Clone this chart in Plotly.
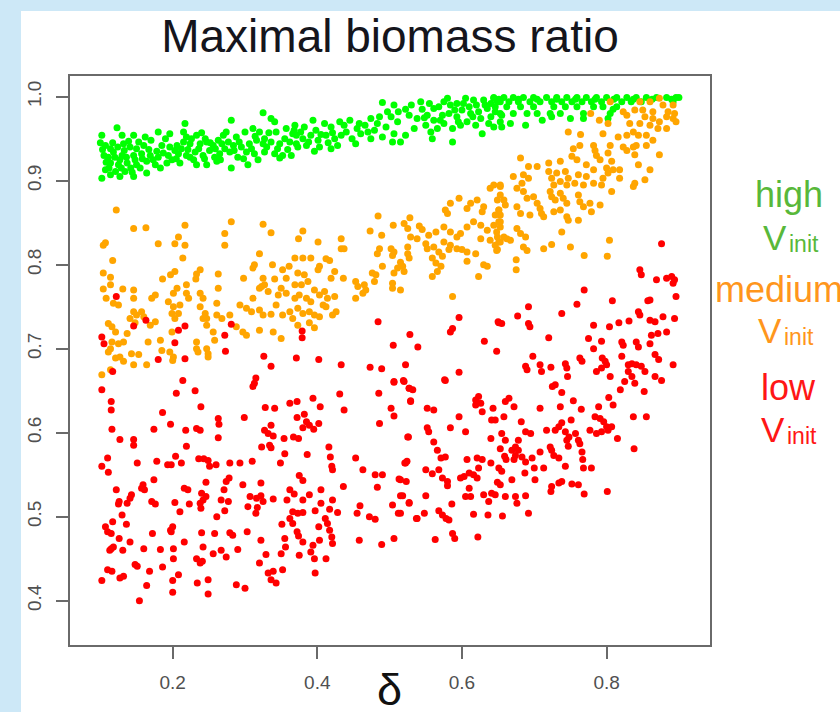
import plotly.graph_objects as go

# ---------------- data ----------------
title_text = "Maximal biomass ratio"
x_label = "δ"
x_tick_vals = [0.2, 0.4, 0.6, 0.8]
x_tick_text = ["0.2", "0.4", "0.6", "0.8"]
y_tick_vals = [0.4, 0.5, 0.6, 0.7, 0.8, 0.9, 1.0]
y_tick_text = ["0.4", "0.5", "0.6", "0.7", "0.8", "0.9", "1.0"]
group_names = ["high", "medium", "low"]

green_pts = [
    (0.325,0.981),(0.336,0.974),(0.341,0.970),(0.281,0.972),(0.217,0.968),(0.123,0.963),(0.102,0.954),(0.130,0.954),
    (0.146,0.954),(0.162,0.952),(0.180,0.958),(0.196,0.956),(0.215,0.958),(0.219,0.952),(0.233,0.954),(0.245,0.950),
    (0.270,0.954),(0.274,0.958),(0.288,0.952),(0.300,0.958),(0.311,0.962),(0.320,0.958),(0.327,0.950),(0.343,0.958),
    (0.357,0.962),(0.366,0.956),(0.107,0.942),(0.114,0.938),(0.118,0.934),(0.105,0.930),(0.111,0.928),(0.132,0.944),
    (0.141,0.940),(0.150,0.938),(0.160,0.942),(0.185,0.942),(0.196,0.940),(0.206,0.942),(0.215,0.946),(0.224,0.944),
    (0.238,0.944),(0.247,0.946),(0.256,0.942),(0.268,0.944),(0.277,0.946),(0.284,0.942),(0.295,0.940),(0.306,0.944),
    (0.316,0.948),(0.325,0.944),(0.336,0.946),(0.348,0.944),(0.362,0.946),(0.371,0.944),(0.130,0.930),(0.146,0.930),
    (0.157,0.932),(0.169,0.930),(0.180,0.928),(0.194,0.930),(0.208,0.932),(0.219,0.930),(0.231,0.934),(0.242,0.930),
    (0.251,0.936),(0.265,0.932),(0.279,0.934),(0.290,0.928),(0.302,0.934),(0.313,0.932),(0.327,0.934),(0.341,0.932),
    (0.352,0.930),(0.114,0.921),(0.125,0.919),(0.137,0.921),(0.150,0.919),(0.164,0.923),(0.176,0.919),(0.192,0.921),
    (0.210,0.921),(0.233,0.919),(0.247,0.919),(0.261,0.923),(0.281,0.915),(0.304,0.919),(0.348,0.927),(0.102,0.903),
    (0.114,0.907),(0.127,0.905),(0.146,0.905),(0.164,0.909),(0.107,0.913),(0.121,0.911),(0.134,0.911),(0.144,0.910),
    (0.183,0.915),(0.199,0.925),(0.224,0.928),(0.258,0.928),
    (0.100,0.945),(0.103,0.937),(0.108,0.922),(0.112,0.915),(0.117,0.945),(0.120,0.928),(0.124,0.940),(0.127,0.925),
    (0.129,0.915),(0.133,0.936),(0.136,0.928),(0.139,0.947),(0.142,0.915),(0.148,0.925),(0.153,0.946),(0.155,0.915),
    (0.158,0.926),(0.167,0.937),(0.170,0.948),(0.173,0.925),(0.178,0.935),(0.187,0.933),(0.190,0.950),(0.203,0.936),
    (0.205,0.926),(0.212,0.938),(0.221,0.937),(0.226,0.950),(0.229,0.925),(0.236,0.938),(0.240,0.957),(0.244,0.926),
    (0.252,0.945),(0.259,0.938),(0.263,0.948),(0.266,0.925),(0.272,0.938),(0.285,0.936),(0.292,0.946),(0.298,0.926),
    (0.309,0.938),(0.314,0.953),(0.318,0.925),(0.330,0.940),(0.333,0.957),(0.345,0.938),(0.355,0.950),(0.359,0.937),
    (0.364,0.930),(0.368,0.960),(0.377,0.958),(0.388,0.946),(0.398,0.960),(0.405,0.955),(0.415,0.945),(0.421,0.957),
    (0.428,0.942),(0.440,0.958),(0.445,0.972),(0.448,0.950),(0.455,0.962),(0.466,0.966),(0.470,0.958),(0.483,0.968),
    (0.490,0.952),(0.497,0.982),(0.512,0.982),(0.530,0.990),(0.545,0.985),(0.555,0.992),(0.568,0.988),(0.580,0.998),
    (0.590,0.984),(0.602,0.992),(0.610,0.988),(0.620,0.990),(0.632,0.990),(0.640,0.992),(0.548,0.975),(0.570,0.972),
    (0.595,0.970),(0.615,0.976),(0.640,0.976),
    (0.490,0.993),(0.506,0.990),(0.522,0.985),(0.543,0.994),(0.561,0.986),(0.575,0.994),(0.584,0.990),(0.593,0.992),
    (0.605,0.998),(0.616,0.996),(0.630,0.996),(0.644,0.998),(0.653,0.994),(0.369,0.966),(0.382,0.964),(0.394,0.972),
    (0.410,0.968),(0.419,0.964),(0.431,0.970),(0.437,0.966),(0.458,0.968),(0.474,0.974),(0.486,0.976),(0.502,0.976),
    (0.511,0.970),(0.527,0.978),(0.538,0.974),(0.552,0.978),(0.561,0.972),(0.573,0.978),(0.582,0.980),(0.593,0.976),
    (0.600,0.984),(0.612,0.980),(0.623,0.982),(0.635,0.986),(0.646,0.982),(0.655,0.978),(0.371,0.954),(0.380,0.950),
    (0.391,0.954),(0.401,0.948),(0.412,0.954),(0.424,0.950),(0.433,0.954),(0.373,0.940),(0.385,0.942),(0.396,0.935),
    (0.403,0.940),(0.419,0.938),(0.453,0.944),(0.460,0.956),(0.474,0.950),(0.479,0.960),(0.495,0.964),(0.506,0.956),
    (0.515,0.946),(0.522,0.954),(0.534,0.962),(0.504,0.946),(0.550,0.966),(0.557,0.958),(0.566,0.962),(0.559,0.950),
    (0.575,0.968),(0.587,0.962),(0.587,0.946),(0.598,0.966),(0.607,0.970),(0.619,0.966),(0.626,0.974),(0.637,0.968),
    (0.628,0.956),(0.644,0.964),(0.653,0.970),
    (0.644,0.999),(0.658,0.999),(0.671,0.999),(0.685,0.999),(0.699,0.999),(0.717,0.999),(0.731,0.999),(0.745,0.999),
    (0.759,0.999),(0.772,0.999),(0.786,0.999),(0.800,0.999),(0.814,0.999),(0.828,0.999),(0.841,0.999),(0.855,0.999),
    (0.869,0.999),(0.883,0.999),(0.896,0.999),(0.649,0.994),(0.665,0.994),(0.678,0.994),(0.694,0.994),(0.708,0.994),
    (0.724,0.994),(0.738,0.994),(0.752,0.994),(0.766,0.994),(0.779,0.994),(0.793,0.994),(0.821,0.994),(0.834,0.994),
    (0.848,0.994),(0.892,0.994),(0.646,0.988),(0.662,0.988),(0.681,0.988),(0.699,0.988),(0.727,0.988),(0.743,0.988),
    (0.759,0.988),(0.782,0.988),(0.795,0.988),(0.814,0.988),(0.653,0.980),(0.671,0.980),(0.690,0.980),(0.704,0.980),
    (0.722,0.980),(0.736,0.980),(0.768,0.980),(0.805,0.980),(0.655,0.964),(0.667,0.968),(0.688,0.966),(0.711,0.972),
    (0.724,0.976),(0.750,0.974),(0.768,0.974),(0.802,0.974),(0.809,0.985),(0.651,0.997),(0.678,0.997),(0.704,0.997),
    (0.731,0.997),(0.757,0.997),(0.784,0.997),(0.810,0.997),(0.837,0.997),(0.863,0.997),(0.890,0.997),(0.900,0.999),
]

orange_pts = [
    (0.122,0.865),(0.146,0.843),(0.163,0.844),(0.217,0.847),(0.281,0.851),(0.272,0.837),(0.272,0.823),(0.325,0.848),
    (0.336,0.838),(0.104,0.823),(0.107,0.826),(0.180,0.825),(0.208,0.833),(0.203,0.825),(0.217,0.823),(0.117,0.805),
    (0.214,0.808),(0.320,0.813),(0.313,0.800),(0.311,0.796),(0.338,0.800),(0.104,0.790),(0.114,0.785),(0.186,0.783),
    (0.197,0.788),(0.203,0.792),(0.233,0.789),(0.238,0.794),(0.232,0.783),(0.263,0.789),(0.298,0.784),(0.325,0.784),
    (0.327,0.776),(0.323,0.774),(0.341,0.783),(0.352,0.794),(0.361,0.798),(0.357,0.784),(0.104,0.771),(0.114,0.776),
    (0.131,0.771),(0.146,0.770),(0.146,0.760),(0.176,0.764),(0.171,0.760),(0.219,0.776),(0.219,0.766),(0.222,0.760),
    (0.206,0.772),(0.201,0.766),(0.238,0.766),(0.242,0.760),(0.263,0.772),(0.311,0.760),(0.320,0.772),(0.332,0.768),
    (0.346,0.764),(0.350,0.772),(0.357,0.766),(0.108,0.760),(0.118,0.754),(0.125,0.752),(0.146,0.744),(0.150,0.740),
    (0.157,0.744),(0.160,0.738),(0.141,0.736),(0.148,0.731),(0.194,0.756),(0.201,0.750),(0.210,0.752),(0.208,0.742),
    (0.203,0.736),(0.199,0.742),(0.238,0.750),(0.245,0.742),(0.247,0.736),(0.242,0.736),(0.247,0.728),(0.261,0.754),
    (0.261,0.740),(0.268,0.736),(0.279,0.740),(0.293,0.752),(0.302,0.748),(0.309,0.744),(0.320,0.746),(0.325,0.740),
    (0.336,0.741),(0.343,0.752),(0.352,0.740),(0.362,0.744),(0.366,0.736),(0.111,0.730),(0.116,0.726),(0.121,0.720),
    (0.137,0.718),(0.132,0.708),(0.125,0.706),(0.116,0.708),(0.114,0.700),(0.111,0.696),(0.166,0.708),(0.183,0.710),
    (0.199,0.720),(0.169,0.728),(0.176,0.732),(0.196,0.696),(0.201,0.690),(0.185,0.698),(0.143,0.694),(0.153,0.693),
    (0.127,0.690),(0.132,0.685),(0.121,0.689),(0.146,0.681),(0.164,0.681),(0.102,0.669),(0.114,0.675),(0.233,0.708),
    (0.233,0.700),(0.235,0.696),(0.247,0.700),(0.249,0.694),(0.256,0.720),(0.258,0.710),(0.297,0.720),(0.302,0.716),
    (0.288,0.726),(0.320,0.722),(0.339,0.720),(0.350,0.712),(0.200,0.686),(0.249,0.690),
    (0.639,0.891),(0.653,0.895),(0.596,0.879),(0.584,0.873),(0.577,0.865),(0.580,0.861),(0.607,0.867),(0.612,0.873),
    (0.621,0.877),(0.630,0.869),(0.628,0.863),(0.649,0.877),(0.651,0.865),(0.653,0.859),(0.484,0.858),(0.528,0.856),
    (0.473,0.840),(0.505,0.847),(0.520,0.849),(0.525,0.843),(0.541,0.846),(0.545,0.842),(0.489,0.835),(0.380,0.840),
    (0.374,0.831),(0.401,0.827),(0.433,0.831),(0.433,0.819),(0.437,0.819),(0.529,0.833),(0.538,0.831),(0.554,0.835),
    (0.564,0.839),(0.575,0.845),(0.584,0.839),(0.593,0.833),(0.598,0.837),(0.607,0.845),(0.616,0.851),(0.626,0.847),
    (0.635,0.841),(0.644,0.847),(0.653,0.851),(0.626,0.831),(0.639,0.829),(0.649,0.833),(0.653,0.827),(0.649,0.818),
    (0.575,0.827),(0.584,0.823),(0.582,0.818),(0.593,0.819),(0.600,0.818),(0.607,0.815),(0.619,0.813),(0.550,0.825),
    (0.552,0.819),(0.561,0.821),(0.568,0.815),(0.573,0.810),(0.559,0.808),(0.564,0.802),(0.571,0.798),(0.566,0.792),
    (0.559,0.786),(0.607,0.804),(0.630,0.800),(0.635,0.798),(0.623,0.786),(0.587,0.762),(0.502,0.819),(0.506,0.815),
    (0.504,0.811),(0.525,0.821),(0.525,0.813),(0.527,0.808),(0.515,0.803),(0.518,0.798),(0.520,0.792),(0.511,0.796),
    (0.506,0.790),(0.486,0.819),(0.483,0.813),(0.476,0.790),(0.481,0.788),(0.490,0.798),(0.479,0.780),(0.465,0.776),
    (0.453,0.780),(0.456,0.774),(0.467,0.770),(0.463,0.766),(0.453,0.760),(0.504,0.778),(0.504,0.772),(0.515,0.770),
    (0.436,0.784),(0.424,0.792),(0.419,0.784),(0.417,0.805),(0.412,0.807),(0.403,0.798),(0.401,0.794),(0.369,0.808),
    (0.380,0.808),(0.391,0.808),(0.373,0.790),(0.382,0.788),(0.387,0.780),(0.378,0.776),(0.369,0.776),(0.369,0.760),
    (0.396,0.770),(0.403,0.764),(0.410,0.768),(0.414,0.760),(0.375,0.764),(0.385,0.760),(0.391,0.756),(0.408,0.752),
    (0.412,0.750),(0.424,0.762),(0.426,0.744),(0.421,0.740),(0.373,0.748),(0.380,0.742),(0.389,0.744),(0.396,0.740),
    (0.403,0.738),(0.373,0.728),(0.389,0.731),(0.396,0.725),
    (0.805,0.994),(0.846,0.994),(0.860,0.994),(0.873,0.998),(0.878,0.990),(0.892,0.990),(0.778,0.980),(0.823,0.982),
    (0.828,0.978),(0.839,0.984),(0.850,0.984),(0.864,0.982),(0.885,0.982),(0.894,0.980),(0.853,0.976),(0.864,0.974),
    (0.883,0.976),(0.892,0.974),(0.802,0.968),(0.790,0.972),(0.832,0.968),(0.846,0.968),(0.860,0.966),(0.873,0.970),
    (0.871,0.962),(0.883,0.962),(0.896,0.970),(0.747,0.958),(0.764,0.955),(0.795,0.956),(0.816,0.952),(0.828,0.954),
    (0.837,0.958),(0.844,0.954),(0.855,0.954),(0.864,0.948),(0.754,0.938),(0.763,0.942),(0.782,0.942),(0.784,0.936),
    (0.786,0.930),(0.791,0.925),(0.805,0.942),(0.823,0.940),(0.828,0.936),(0.837,0.940),(0.841,0.942),(0.855,0.942),
    (0.839,0.931),(0.873,0.931),(0.802,0.933),(0.681,0.927),(0.752,0.929),(0.759,0.925),(0.720,0.921),(0.736,0.923),
    (0.692,0.917),(0.704,0.917),(0.772,0.919),(0.782,0.913),(0.807,0.923),(0.800,0.915),(0.802,0.909),(0.809,0.913),
    (0.818,0.913),(0.844,0.919),(0.860,0.913),(0.720,0.911),(0.724,0.903),(0.731,0.909),(0.743,0.911),(0.747,0.903),
    (0.761,0.907),(0.772,0.905),(0.671,0.905),(0.685,0.907),(0.692,0.903),(0.683,0.897),(0.644,0.895),(0.653,0.893),
    (0.795,0.903),(0.818,0.903),(0.839,0.897),(0.853,0.901),(0.837,0.893),(0.727,0.895),(0.736,0.899),(0.745,0.895),
    (0.756,0.897),(0.768,0.895),(0.782,0.897),(0.793,0.895),(0.807,0.887),(0.676,0.891),(0.685,0.887),(0.690,0.879),
    (0.699,0.881),(0.704,0.873),(0.708,0.867),(0.722,0.887),(0.724,0.881),(0.736,0.885),(0.740,0.879),(0.745,0.873),
    (0.729,0.877),(0.761,0.883),(0.763,0.875),(0.768,0.869),(0.777,0.873),(0.791,0.871),(0.779,0.863),(0.653,0.883),
    (0.658,0.877),(0.660,0.871),(0.651,0.865),(0.646,0.859),(0.676,0.869),(0.681,0.861),(0.694,0.859),(0.710,0.861),
    (0.713,0.857),(0.727,0.863),(0.736,0.865),(0.745,0.857),(0.747,0.853),(0.761,0.853),(0.651,0.851),(0.653,0.845),
    (0.648,0.839),(0.658,0.833),(0.651,0.827),(0.646,0.823),(0.648,0.817),(0.676,0.843),(0.681,0.837),(0.688,0.833),
    (0.662,0.831),(0.667,0.829),(0.685,0.821),(0.690,0.817),(0.738,0.839),(0.713,0.819),(0.724,0.824),(0.750,0.821),
    (0.804,0.829),(0.801,0.810),(0.769,0.811),(0.675,0.806),(0.675,0.794),
]

red_pts = [
    (0.273,0.697),(0.326,0.691),(0.336,0.679),(0.371,0.689),(0.402,0.687),(0.433,0.681),(0.473,0.678),(0.489,0.676),
    (0.522,0.681),(0.117,0.673),(0.102,0.651),(0.214,0.662),(0.205,0.647),(0.231,0.650),(0.315,0.665),(0.313,0.659),
    (0.311,0.655),(0.115,0.637),(0.115,0.627),(0.186,0.624),(0.239,0.631),(0.299,0.618),(0.328,0.630),(0.341,0.629),
    (0.362,0.635),(0.372,0.637),(0.394,0.641),(0.404,0.631),(0.431,0.646),(0.437,0.627),(0.485,0.647),(0.506,0.660),
    (0.519,0.662),(0.527,0.653),(0.502,0.629),(0.506,0.620),(0.486,0.611),(0.526,0.595),(0.529,0.638),(0.116,0.604),
    (0.174,0.604),(0.197,0.610),(0.218,0.603),(0.233,0.605),(0.238,0.603),(0.263,0.617),(0.264,0.610),(0.263,0.594),
    (0.327,0.603),(0.332,0.599),(0.336,0.609),(0.339,0.596),(0.323,0.583),(0.334,0.585),(0.336,0.582),(0.354,0.593),
    (0.367,0.595),(0.374,0.593),(0.372,0.618),(0.382,0.622),(0.385,0.613),(0.380,0.606),(0.389,0.609),(0.402,0.611),
    (0.395,0.604),(0.355,0.575),(0.349,0.564),(0.386,0.574),(0.416,0.583),(0.418,0.571),(0.420,0.560),(0.421,0.556),
    (0.127,0.592),(0.146,0.592),(0.146,0.585),(0.151,0.564),(0.178,0.566),(0.193,0.562),(0.198,0.562),(0.204,0.572),
    (0.212,0.564),(0.219,0.584),(0.236,0.569),(0.243,0.569),(0.249,0.567),(0.251,0.560),(0.260,0.562),(0.279,0.564),
    (0.293,0.564),(0.310,0.566),(0.110,0.570),(0.102,0.560),(0.111,0.553),(0.453,0.570),(0.463,0.556),(0.480,0.550),
    (0.490,0.550),(0.483,0.535),(0.524,0.566),(0.521,0.564),(0.513,0.545),(0.523,0.542),(0.518,0.525),(0.527,0.516),
    (0.504,0.514),(0.512,0.504),(0.537,0.498),(0.436,0.536),(0.455,0.504),(0.459,0.513),(0.472,0.500),(0.480,0.497),
    (0.458,0.472),(0.489,0.467),(0.506,0.474),(0.428,0.505),(0.421,0.520),(0.417,0.509),(0.411,0.498),(0.414,0.492),
    (0.405,0.532),(0.397,0.507),(0.402,0.488),(0.405,0.516),(0.417,0.484),(0.420,0.476),(0.421,0.468),(0.403,0.472),
    (0.394,0.466),(0.391,0.458),(0.396,0.450),(0.412,0.450),(0.397,0.433),(0.375,0.549),(0.380,0.543),(0.362,0.532),
    (0.368,0.527),(0.358,0.520),(0.380,0.520),(0.389,0.526),(0.366,0.506),(0.373,0.504),(0.380,0.505),(0.362,0.498),
    (0.366,0.492),(0.351,0.491),(0.372,0.482),(0.374,0.477),(0.355,0.474),(0.356,0.464),(0.350,0.456),(0.375,0.454),
    (0.380,0.470),(0.339,0.521),(0.322,0.540),(0.307,0.524),(0.316,0.522),(0.322,0.525),(0.325,0.518),(0.304,0.512),
    (0.317,0.511),(0.315,0.504),(0.297,0.538),(0.322,0.472),(0.329,0.455),(0.320,0.445),(0.332,0.433),(0.339,0.435),
    (0.336,0.425),(0.343,0.421),(0.352,0.437),(0.303,0.482),(0.288,0.419),(0.300,0.415),(0.290,0.461),(0.278,0.546),
    (0.274,0.542),(0.271,0.532),(0.267,0.520),(0.277,0.518),(0.272,0.507),(0.261,0.500),(0.246,0.541),(0.240,0.528),
    (0.246,0.524),(0.238,0.516),(0.242,0.520),(0.239,0.510),(0.216,0.534),(0.221,0.532),(0.203,0.517),(0.210,0.506),
    (0.223,0.515),(0.240,0.481),(0.258,0.480),(0.279,0.481),(0.283,0.478),(0.216,0.470),(0.242,0.464),(0.256,0.456),
    (0.267,0.460),(0.274,0.452),(0.233,0.450),(0.238,0.445),(0.241,0.447),(0.234,0.421),(0.249,0.425),(0.249,0.408),
    (0.200,0.488),(0.198,0.482),(0.201,0.462),(0.201,0.450),(0.186,0.440),(0.208,0.431),(0.200,0.424),(0.200,0.410),
    (0.183,0.461),(0.172,0.480),(0.160,0.462),(0.168,0.435),(0.164,0.418),(0.154,0.400),(0.148,0.443),(0.151,0.441),
    (0.127,0.427),(0.132,0.429),(0.116,0.435),(0.110,0.437),(0.102,0.424),(0.115,0.462),(0.113,0.460),(0.118,0.464),
    (0.131,0.460),(0.126,0.474),(0.141,0.470),(0.107,0.488),(0.110,0.482),(0.115,0.480),(0.117,0.494),(0.130,0.502),
    (0.136,0.491),(0.122,0.532),(0.126,0.518),(0.125,0.515),(0.137,0.516),(0.141,0.522),(0.143,0.526),(0.157,0.534),
    (0.159,0.538),(0.161,0.532),(0.174,0.544),(0.171,0.518),(0.176,0.515),(0.197,0.484),
    (0.648,0.697),(0.698,0.691),(0.688,0.679),(0.690,0.675),(0.708,0.681),(0.710,0.673),(0.723,0.678),(0.743,0.682),
    (0.745,0.677),(0.746,0.667),(0.763,0.689),(0.766,0.685),(0.794,0.689),(0.798,0.685),(0.800,0.681),(0.793,0.677),
    (0.786,0.673),(0.805,0.667),(0.821,0.691),(0.830,0.681),(0.835,0.682),(0.841,0.681),(0.848,0.679),(0.853,0.673),
    (0.830,0.673),(0.835,0.667),(0.867,0.693),(0.872,0.687),(0.892,0.681),(0.867,0.667),(0.876,0.662),(0.839,0.659),
    (0.825,0.661),(0.819,0.651),(0.852,0.649),(0.803,0.642),(0.809,0.633),(0.789,0.631),(0.784,0.619),(0.791,0.617),
    (0.796,0.613),(0.800,0.607),(0.802,0.603),(0.786,0.599),(0.793,0.601),(0.777,0.603),(0.765,0.628),(0.754,0.638),
    (0.738,0.648),(0.729,0.657),(0.736,0.631),(0.751,0.615),(0.738,0.612),(0.734,0.607),(0.743,0.601),(0.748,0.595),
    (0.757,0.599),(0.745,0.591),(0.747,0.584),(0.761,0.591),(0.763,0.587),(0.766,0.577),(0.767,0.568),(0.768,0.558),
    (0.779,0.558),(0.729,0.603),(0.717,0.603),(0.722,0.583),(0.724,0.579),(0.727,0.573),(0.734,0.570),(0.743,0.560),
    (0.708,0.577),(0.708,0.629),(0.725,0.655),(0.695,0.599),(0.688,0.601),(0.678,0.591),(0.674,0.583),(0.678,0.579),
    (0.683,0.571),(0.688,0.565),(0.697,0.570),(0.687,0.552),(0.700,0.558),(0.713,0.558),(0.701,0.544),(0.682,0.613),
    (0.672,0.631),(0.665,0.641),(0.660,0.637),(0.658,0.619),(0.646,0.615),(0.640,0.593),(0.655,0.599),(0.660,0.591),
    (0.653,0.581),(0.659,0.572),(0.661,0.568),(0.669,0.579),(0.674,0.573),(0.672,0.568),(0.651,0.558),(0.655,0.554),
    (0.669,0.544),(0.640,0.564),(0.649,0.541),(0.653,0.538),(0.660,0.524),(0.674,0.524),(0.676,0.516),(0.688,0.525),
    (0.692,0.504),(0.641,0.528),(0.637,0.518),(0.646,0.526),(0.616,0.503),(0.636,0.502),(0.656,0.501),(0.630,0.526),
    (0.605,0.524),(0.612,0.524),(0.610,0.534),(0.621,0.546),(0.616,0.550),(0.610,0.552),(0.598,0.546),(0.603,0.548),
    (0.607,0.568),(0.621,0.570),(0.628,0.568),(0.623,0.558),(0.586,0.515),(0.568,0.507),(0.573,0.502),(0.578,0.498),
    (0.582,0.496),(0.587,0.480),(0.590,0.474),(0.563,0.473),(0.622,0.476),(0.548,0.504),(0.538,0.498),(0.550,0.525),
    (0.527,0.517),(0.515,0.525),(0.515,0.504),(0.568,0.556),(0.559,0.551),(0.573,0.546),(0.580,0.542),(0.580,0.537),
    (0.550,0.556),(0.566,0.579),(0.571,0.570),(0.577,0.571),(0.561,0.589),(0.552,0.606),(0.554,0.601),(0.584,0.606),
    (0.605,0.601),(0.596,0.619),(0.552,0.629),(0.561,0.627),(0.525,0.595),(0.522,0.564),(0.515,0.544),(0.527,0.653),
    (0.532,0.651),(0.529,0.637),(0.520,0.661),(0.577,0.662),(0.596,0.672),(0.619,0.639),(0.623,0.643),(0.626,0.635),
    (0.619,0.633),(0.628,0.625),(0.643,0.629),(0.641,0.615),(0.807,0.607),(0.815,0.593),(0.837,0.619),(0.855,0.619),
    (0.838,0.581),(0.801,0.530),(0.769,0.527),(0.761,0.538),(0.752,0.539),(0.738,0.542),(0.734,0.540),(0.724,0.536),
    (0.723,0.530),
    (0.876,0.825),(0.846,0.794),(0.848,0.788),(0.869,0.782),(0.883,0.784),(0.890,0.786),(0.894,0.782),(0.892,0.778),
    (0.896,0.762),(0.769,0.770),(0.808,0.757),(0.857,0.757),(0.860,0.758),(0.759,0.753),(0.692,0.750),(0.738,0.742),
    (0.677,0.739),(0.651,0.731),(0.655,0.730),(0.692,0.730),(0.694,0.726),(0.844,0.744),(0.846,0.740),(0.860,0.734),
    (0.867,0.732),(0.878,0.738),(0.894,0.736),(0.782,0.728),(0.804,0.726),(0.817,0.731),(0.831,0.733),(0.883,0.720),
    (0.871,0.718),(0.862,0.716),(0.720,0.713),(0.775,0.712),(0.793,0.709),(0.821,0.708),(0.823,0.704),(0.841,0.708),
    (0.844,0.702),(0.860,0.706),(0.782,0.700),
    (0.122,0.762),(0.146,0.727),(0.163,0.734),(0.102,0.714),(0.105,0.706),(0.180,0.687),(0.203,0.707),(0.208,0.722),
    (0.217,0.727),(0.217,0.688),(0.272,0.716),(0.281,0.729),
    (0.484,0.732),(0.379,0.721),(0.379,0.713),(0.528,0.717),(0.505,0.704),(0.539,0.702),(0.584,0.720),(0.587,0.724),
    (0.596,0.737),(0.631,0.709),(0.650,0.732),(0.576,0.663),(0.506,0.661),
]

# ---------------- styling ----------------
FONT = "Liberation Sans, Arial, sans-serif"
PLOT_L, PLOT_R, PLOT_T, PLOT_B = 70, 710, 76, 645   # plot box in pixels
W, H = 840, 712
colors = {"high": "#00ff00", "medium": "#ffa500", "low": "#ff0000"}
label_colors = {"high": "#58b83a", "medium": "#ff961c", "low": "#ff1616"}


def paper(px, py):
    """convert a pixel position of the page to paper coordinates"""
    return ((px - PLOT_L) / (PLOT_R - PLOT_L), (PLOT_B - py) / (PLOT_B - PLOT_T))


fig = go.Figure()
for name, pts in [("high", green_pts), ("medium", orange_pts), ("low", red_pts)]:
    fig.add_trace(go.Scatter(
        x=[p[0] for p in pts], y=[p[1] for p in pts], mode="markers", name=name,
        marker=dict(size=7, color=colors[name], line=dict(width=0)),
        showlegend=False, hoverinfo="skip"))

axis_common = dict(
    showgrid=False, zeroline=False, showline=True, linecolor="#6a6a6a", linewidth=2,
    mirror=True, ticks="outside", ticklen=12, tickwidth=1.5, tickcolor="#6a6a6a",
    tickfont=dict(family=FONT, size=19, color="#505050"),
)
fig.update_xaxes(range=[0.058, 0.943], tickvals=x_tick_vals, ticktext=x_tick_text,
                 ticklabelstandoff=7, **axis_common)
fig.update_yaxes(range=[0.3473, 1.0246], tickvals=y_tick_vals, ticktext=y_tick_text,
                 tickangle=-90, ticklabelstandoff=7, **axis_common)

annotations = []
def add_text(text, px, py_center, size, color, xanchor="center"):
    x, y = paper(px, py_center)
    annotations.append(dict(text=text, x=x, y=y, xref="paper", yref="paper", xanchor=xanchor,
                            yanchor="middle", showarrow=False,
                            font=dict(family=FONT, size=size, color=color)))

# right-hand group labels: (name, center x of word, baseline of word, V right edge, V baseline)
label_rows = [("high", 789, 207, 788, 250), ("medium", 779, 302, 783, 343), ("low", 788, 400, 786, 442)]
for name, cx, base, vx, vbase in label_rows:
    add_text(name, cx, base - 0.3465 * 36, 36, label_colors[name])
    add_text("V", vx + 1, vbase - 0.3465 * 35, 35, label_colors[name], xanchor="right")
    add_text("init", vx - 1, vbase + 2 - 0.3465 * 23, 23, label_colors[name], xanchor="left")

add_text(x_label, 389, 705 - 0.3465 * 45, 45, "#111111")

shapes = [dict(type="rect", xref="paper", yref="paper", layer="below",
               x0=paper(21, 0)[0], x1=paper(860, 0)[0], y0=paper(0, 730)[1], y1=paper(0, 11)[1],
               fillcolor="#ffffff", line=dict(width=0))]

fig.update_layout(
    width=W, height=H,
    margin=dict(l=PLOT_L, r=W - PLOT_R, t=PLOT_T, b=H - PLOT_B, autoexpand=False),
    paper_bgcolor="#cde8f7", plot_bgcolor="#ffffff",
    title=dict(text=title_text, x=0.5, xref="paper", xanchor="center",
               y=1 - 36 / H, yref="container", yanchor="middle",
               font=dict(family=FONT, size=46, color="#15151c")),
    annotations=annotations, shapes=shapes,
)

fig.write_html("out.html", config={"displayModeBar": False},
               post_script="document.body.style.margin='0';document.body.style.overflow='hidden';")
